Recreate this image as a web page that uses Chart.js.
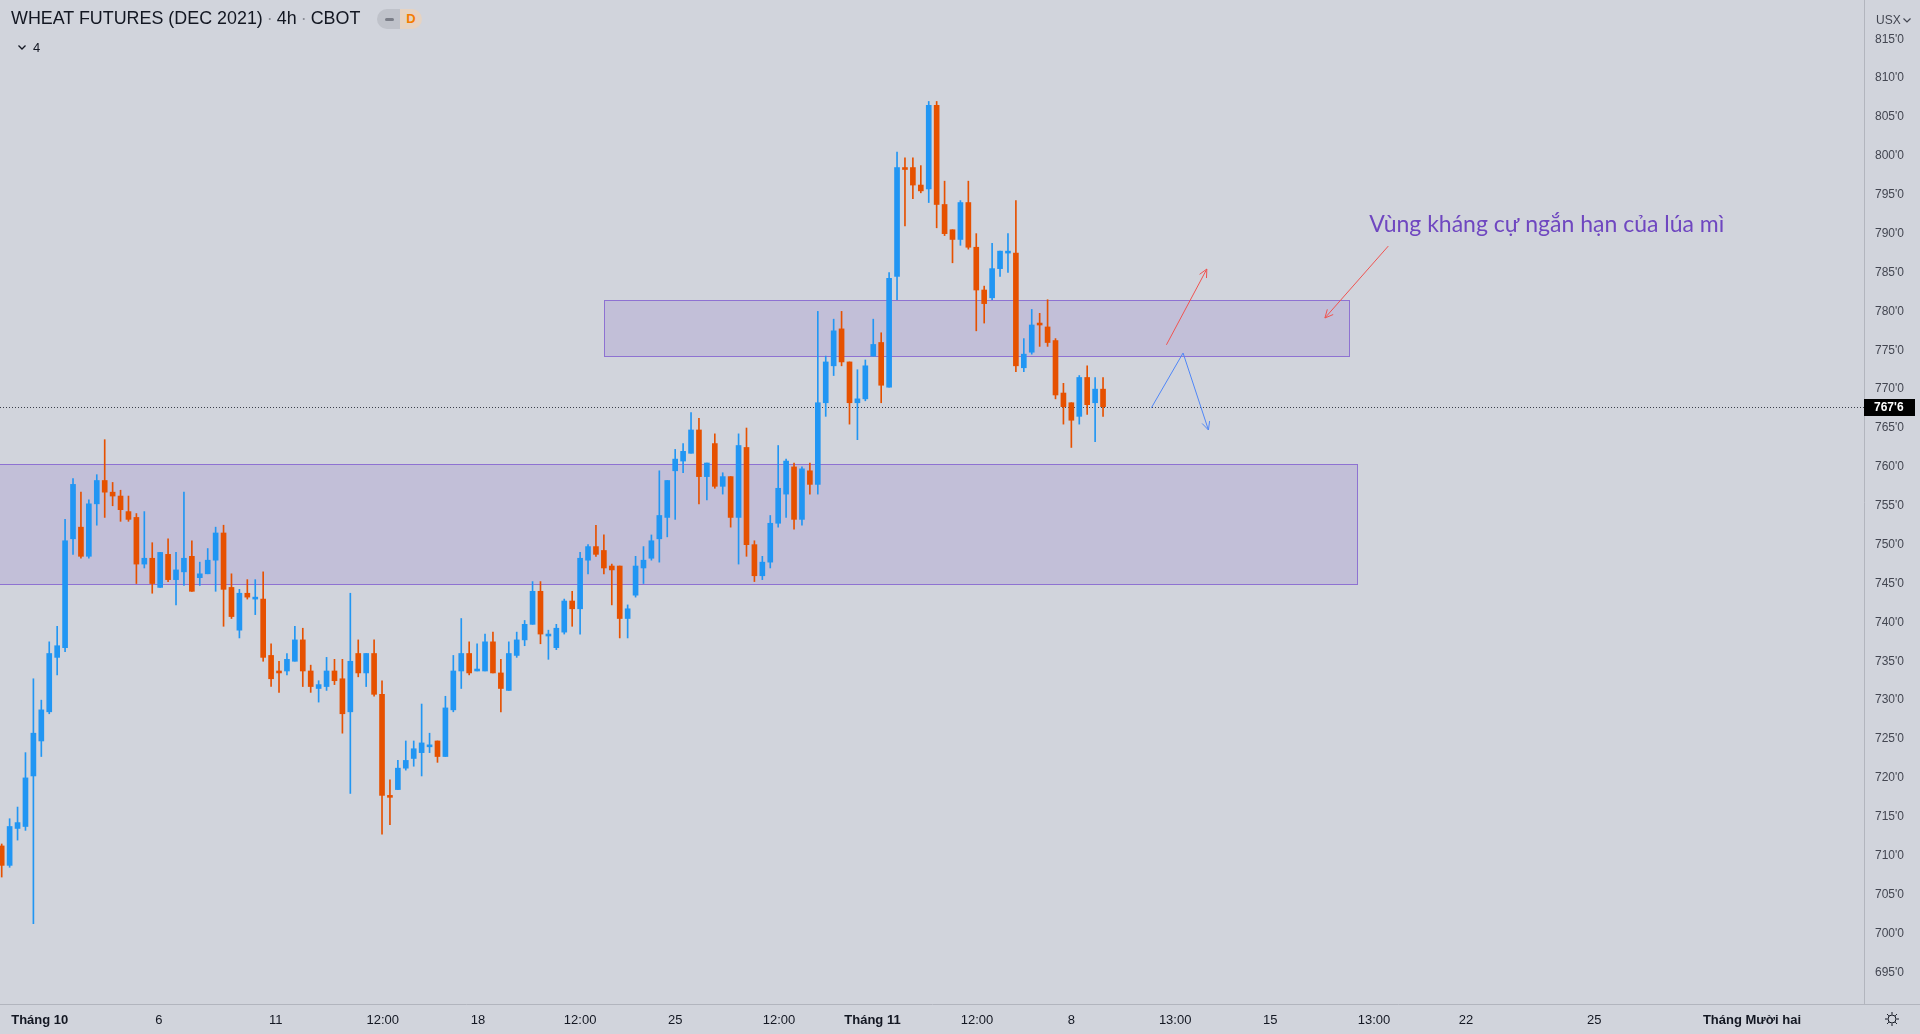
<!DOCTYPE html>
<html>
<head>
<meta charset="utf-8">
<script src="https://cdn.jsdelivr.net/npm/chart.js@4.4.0/dist/chart.umd.min.js"></script>
<style>
  html, body { margin: 0; padding: 0; background: #d1d4dc; overflow: hidden; }
  #wrap { position: relative; width: 1920px; height: 1034px; }
  #title { position: absolute; left: 11px; top: 10px; font: 17.9px 'Liberation Sans', Arial, sans-serif; color: #131722; white-space: nowrap; line-height: 17.9px; }
  #title .sep { color: #8a8d96; padding: 0 4px; }
  #pill { position: absolute; left: 377px; top: 9px; width: 45px; height: 20px; border-radius: 10px; overflow: hidden; display: flex; }
  #pill .l { width: 23px; background: #bfc2ca; position: relative; }
  #pill .l i { position: absolute; left: 8px; top: 8.5px; width: 9px; height: 3px; border-radius: 2px; background: #7b7e88; }
  #pill .r { width: 22px; background: #e6d3c2; color: #f57c00; font: bold 13px 'Liberation Sans', Arial, sans-serif; line-height: 20px; text-align: center; }
  #legend { position: absolute; left: 18px; top: 40px; font: 13px 'Liberation Sans', Arial, sans-serif; color: #131722; display: flex; align-items: center; gap: 7px; }
  #usx { position: absolute; left: 1876px; top: 13px; font: 12px 'Liberation Sans', Arial, sans-serif; color: #434651; display: flex; align-items: center; gap: 2px; }
</style>
</head>
<body>
<div id="wrap">
  <canvas id="chart"></canvas>
  <div id="title">WHEAT FUTURES (DEC 2021)<span class="sep">·</span>4h<span class="sep">·</span>CBOT</div>
  <div id="pill"><div class="l"><i></i></div><div class="r">D</div></div>
  <div id="legend"><svg width="8" height="5" viewBox="0 0 8 5"><polyline points="0.5,0.5 4,4 7.5,0.5" fill="none" stroke="#131722" stroke-width="1.3"/></svg><span>4</span></div>
  <div id="usx"><span>USX</span><svg width="8" height="5" viewBox="0 0 8 5"><polyline points="0.5,0.5 4,4 7.5,0.5" fill="none" stroke="#434651" stroke-width="1.2"/></svg></div>
</div>
<script>
// Wheat futures Dec 2021, 4h candles (CBOT)
const opens = [711.25, 708.75, 713.5, 713.75, 720.25, 724.75, 728.5, 735.5, 736.75, 750.75,
  752.25, 748.5, 755.25, 758.25, 756.75, 756.25, 754.25, 753.5, 747.5, 748.25,
  744.5, 748.75, 745.5, 746.5, 748.5, 745.75, 746.25, 748, 751.5, 744.5,
  739, 743.75, 743, 743, 735.75, 733.75, 733.75, 735, 737.75, 733.75,
  731.5, 731.75, 733.75, 732.75, 728.5, 736, 733.5, 736, 730.75, 717.75,
  718.5, 721.25, 722.5, 723.25, 724, 724.75, 722.75, 728.75, 733.75, 736,
  733.75, 733.75, 737.5, 733.5, 731.25, 735.75, 737.75, 739.75, 744, 738.25,
  736.75, 738.75, 742.75, 741.75, 748, 749.75, 749.25, 747.25, 747.25, 740.5,
  743.5, 747, 748.25, 750.75, 753.5, 759.5, 760.75, 761.75, 764.75, 758.75,
  763, 757.5, 758.75, 753.5, 762.5, 750, 746, 747.75, 752.75, 756.5,
  760, 753.25, 759.5, 757.75, 768.25, 773, 777.75, 773.5, 768.25, 768.75,
  774.25, 776, 770.25, 784.5, 798.5, 798.5, 796.25, 795.75, 806.5, 793.75,
  790.5, 789.25, 794, 788.25, 782.75, 781.75, 785.5, 787.5, 787.5, 772.75,
  774.75, 778.5, 778, 776.25, 769.5, 768.25, 766.5, 771.5, 768.25, 770];
const highs = [711.5, 714.75, 716.25, 723.25, 732.75, 730, 737.5, 739.5, 753.25, 758.5,
  756.75, 755.75, 759, 763.5, 758, 757, 756.25, 754, 754.25, 750.25,
  749, 750.75, 749, 756.75, 750.5, 747.75, 749.5, 752.25, 752.5, 746.25,
  744.25, 745.5, 745.5, 746.5, 737.25, 735, 736, 739.5, 739.25, 734.5,
  732.5, 735.5, 735.25, 735.25, 743.75, 737.75, 736, 737.75, 732.5, 719.75,
  722.25, 724.75, 724.75, 729.5, 725.75, 724.75, 730.5, 735.75, 740.5, 737.5,
  737.25, 738.5, 738.75, 735.25, 737.5, 738.75, 740.25, 745.25, 745.25, 739,
  739.75, 743, 744, 749, 750, 752.5, 751.25, 747.5, 747.25, 742.25,
  748.5, 749.75, 751.25, 759.5, 758.25, 762.25, 763, 767, 766.25, 760.5,
  764.25, 759.25, 758.75, 764.25, 765, 750.5, 748.5, 753.75, 762.75, 761,
  760.5, 760, 760.5, 780, 774.25, 779, 780, 773.5, 772.5, 773.75,
  779, 777.25, 785, 800.5, 799.75, 799.75, 798.75, 807, 807, 796.75,
  790.5, 794.25, 796.75, 790, 783.25, 788.75, 787.75, 790, 794.25, 776.5,
  780.25, 779.75, 781.5, 776.5, 770.75, 768.25, 771.75, 773, 771.5, 771.5];
const lows = [707.25, 708.5, 712, 713.25, 701.25, 722.75, 728.25, 733.25, 736.25, 748.75,
  748.25, 748.25, 752.5, 753.5, 755, 753, 753, 745, 747, 743.75,
  744.5, 745.25, 742.25, 744.75, 744, 744.75, 746.25, 744, 739.5, 740.5,
  738, 743, 741, 735, 731.75, 731, 733.25, 735, 731.75, 731,
  729.75, 731.25, 732, 725.75, 718, 733, 731.75, 730.5, 712.75, 714,
  718.5, 721, 721.5, 720.25, 723.25, 722, 722.75, 728.5, 731.5, 733.25,
  733.75, 733.75, 733.5, 728.5, 731.25, 735.5, 737, 739.75, 737.25, 735.25,
  736.5, 738.5, 739.5, 738.5, 746.25, 748.5, 746.25, 742.25, 738, 738,
  743.25, 745, 748, 747.75, 751, 753.25, 759.25, 761.75, 755.25, 755.75,
  757.25, 756.5, 752.25, 747.5, 748.5, 745.25, 745.5, 747, 752.25, 753.5,
  752, 752.5, 756.5, 756.5, 766.5, 771.75, 773, 765.5, 763.5, 768.5,
  774.25, 768.25, 770.25, 781.5, 791, 794.5, 795.25, 794, 790.75, 789.75,
  786.25, 788.5, 788, 777.5, 778.5, 781.5, 784.5, 785, 772.25, 772.25,
  774.5, 775.5, 775.5, 768.75, 765.5, 762.5, 765.5, 766.75, 763.25, 766.5];
const closes = [708.75, 713.75, 714.25, 720, 725.75, 728.75, 736, 737, 750.5, 757.75,
  748.5, 755.25, 758.25, 756.75, 756.25, 754.5, 753.25, 747.5, 748.25, 745,
  749, 745.5, 746.75, 748.25, 744, 746.25, 748, 751.5, 744.25, 740.75,
  743.75, 743.25, 743.25, 735.5, 732.75, 733.5, 735.25, 737.75, 733.75, 731.75,
  732, 733.75, 732.5, 728.25, 735, 733.5, 736, 730.75, 717.75, 717.5,
  721.25, 722.25, 723.75, 724.5, 724.25, 722.75, 729, 733.75, 736, 733.5,
  734, 737.5, 733.5, 731.5, 736, 737.75, 739.75, 744, 738.5, 738.5,
  739.25, 742.75, 741.75, 748.25, 749.75, 748.75, 747, 746.75, 740.5, 741.75,
  747.25, 748, 750.5, 753.75, 758.25, 761, 762, 764.75, 758.75, 760.5,
  757.5, 758.75, 753.5, 762.75, 750, 746, 747.75, 752.75, 757.25, 760.75,
  753.25, 759.75, 757.75, 768.25, 773.5, 777.5, 773.5, 768.25, 768.75, 773,
  775.75, 770.5, 784.25, 798.5, 798.25, 796.25, 795.5, 806.5, 793.75, 790,
  789.25, 794, 788.25, 782.75, 781, 785.5, 787.75, 787.75, 773, 774.5,
  778.25, 778.25, 776, 769.25, 767.75, 766, 771.5, 768, 770, 767.75];

// time axis: bar-index positions of the labels
const timeTickPos = [4.8, 19.85, 34.6, 48.1, 60.1, 73, 85, 98.1, 109.9, 123.1, 135, 148.1, 160.1, 173.2, 184.8, 201, 220.9];
const timeTickText = ['Tháng 10', '6', '11', '12:00', '18', '12:00', '25', '12:00', 'Tháng 11', '12:00', '8', '13:00', '15', '13:00', '22', '25', 'Tháng Mười hai'];
const timeTickBold = [true, false, false, false, false, false, false, false, true, false, false, false, false, false, false, false, true];
const priceTicks = [695, 700, 705, 710, 715, 720, 725, 730, 735, 740, 745, 750, 755, 760, 765, 770, 775, 780, 785, 790, 795, 800, 805, 810, 815];

// drawings (bar index / price)
const zoneStart = [-5, 76];
const zoneEnd = [171.05, 170.1];
const zoneTop = [760.4, 781.5];
const zoneBottom = [745, 774.3];
const lastPrice = 767.75;
const lastPriceText = "767'6";
const redArrow1X = [175.0, 167.0], redArrow1P = [788.4, 779.15];
const redArrow2X = [147.0, 152.1], redArrow2P = [775.7, 785.45];
const blueArrowX = [145.1, 149.1, 152.3], blueArrowP = [767.6, 774.65, 764.75];
const noteText = 'Vùng kháng cự ngắn hạn của lúa mì';
const noteX = 172.6, noteP = 790.25;

const UP = '#2196f3', DOWN = '#e65100';
const idx = opens.map((_, i) => i);
const colors = idx.map(i => closes[i] >= opens[i] ? UP : DOWN);

Chart.defaults.font.family = "'Liberation Sans', Arial, sans-serif";

function drawArrow(ctx, pts, color) {
  ctx.strokeStyle = color;
  ctx.lineWidth = 1;
  ctx.beginPath();
  pts.forEach((p, i) => i ? ctx.lineTo(p[0], p[1]) : ctx.moveTo(p[0], p[1]));
  ctx.stroke();
  const a = pts[pts.length - 2], b = pts[pts.length - 1];
  const ang = Math.atan2(b[1] - a[1], b[0] - a[0]);
  ctx.beginPath();
  ctx.moveTo(b[0] - 9 * Math.cos(ang - 0.45), b[1] - 9 * Math.sin(ang - 0.45));
  ctx.lineTo(b[0], b[1]);
  ctx.lineTo(b[0] - 9 * Math.cos(ang + 0.45), b[1] - 9 * Math.sin(ang + 0.45));
  ctx.stroke();
}

const drawings = {
  id: 'drawings',
  beforeDatasetsDraw(chart) {
    const { ctx, chartArea: a, scales: { x, y } } = chart;
    ctx.save();
    ctx.beginPath();
    ctx.rect(a.left, a.top, a.right - a.left, a.bottom - a.top);
    ctx.clip();
    zoneTop.forEach((_, k) => {
      const x0 = Math.round(x.getPixelForValue(zoneStart[k])) + 0.5;
      const x1 = Math.round(x.getPixelForValue(zoneEnd[k])) + 0.5;
      const y0 = Math.round(y.getPixelForValue(zoneTop[k])) + 0.5;
      const y1 = Math.round(y.getPixelForValue(zoneBottom[k])) + 0.5;
      ctx.fillStyle = 'rgba(126,87,194,0.17)';
      ctx.fillRect(x0, y0, x1 - x0, y1 - y0);
      ctx.strokeStyle = '#8e72d2';
      ctx.lineWidth = 1;
      ctx.strokeRect(x0, y0, x1 - x0, y1 - y0);
    });
    const py = Math.round(y.getPixelForValue(lastPrice)) + 0.5;
    ctx.strokeStyle = '#3b3f4a';
    ctx.setLineDash([1, 2]);
    ctx.beginPath();
    ctx.moveTo(a.left, py);
    ctx.lineTo(a.right, py);
    ctx.stroke();
    ctx.restore();
  },
  afterDatasetsDraw(chart) {
    const { ctx, scales: { x, y } } = chart;
    const pts = (xs, ps) => xs.map((v, i) => [x.getPixelForValue(v), y.getPixelForValue(ps[i])]);
    ctx.save();
    drawArrow(ctx, pts(redArrow1X, redArrow1P), '#ef5350');
    drawArrow(ctx, pts(redArrow2X, redArrow2P), '#ef5350');
    drawArrow(ctx, pts(blueArrowX, blueArrowP), '#4f86f7');
    ctx.fillStyle = '#6f47c0';
    ctx.font = '23px Lato, sans-serif';
    ctx.textBaseline = 'alphabetic';
    ctx.fillText(noteText, x.getPixelForValue(noteX), y.getPixelForValue(noteP));
    ctx.restore();
  },
  afterDraw(chart) {
    const { ctx, chartArea: a, scales: { y } } = chart;
    const W = chart.width;
    ctx.save();
    // price tag on the scale
    const py = y.getPixelForValue(lastPrice);
    ctx.fillStyle = '#000000';
    ctx.fillRect(a.right, Math.round(py) - 8, 51, 17);
    ctx.fillStyle = '#ffffff';
    ctx.font = 'bold 12px "Liberation Sans", Arial, sans-serif';
    ctx.textBaseline = 'middle';
    ctx.fillText(lastPriceText, a.right + 10, Math.round(py) + 1);
    // bottom separator across the price scale
    ctx.strokeStyle = '#b2b5be';
    ctx.lineWidth = 1;
    ctx.beginPath();
    ctx.moveTo(a.right, Math.round(a.bottom) + 0.5);
    ctx.lineTo(W, Math.round(a.bottom) + 0.5);
    ctx.stroke();
    // settings gear
    const gx = 1892, gy = 1019;
    ctx.strokeStyle = '#131722';
    ctx.beginPath();
    ctx.arc(gx, gy, 4, 0, Math.PI * 2);
    ctx.stroke();
    for (let k = 0; k < 8; k++) {
      const t = k * Math.PI / 4;
      ctx.beginPath();
      ctx.moveTo(gx + 4.5 * Math.cos(t), gy + 4.5 * Math.sin(t));
      ctx.lineTo(gx + 7 * Math.cos(t), gy + 7 * Math.sin(t));
      ctx.stroke();
    }
    ctx.restore();
  }
};

new Chart(document.getElementById('chart'), {
  type: 'bar',
  data: {
    datasets: [{
      label: 'body',
      data: idx.map(i => ({ x: i, y: [opens[i], closes[i]] })),
      backgroundColor: colors,
      barThickness: 5,
      minBarLength: 1,
      grouped: false,
      order: 0
    }, {
      label: 'wick',
      data: idx.map(i => ({ x: i, y: [lows[i], highs[i]] })),
      backgroundColor: colors,
      barThickness: 1,
      grouped: false,
      order: 1
    }]
  },
  options: {
    responsive: true,
    maintainAspectRatio: false,
    devicePixelRatio: 1,
    animation: false,
    events: [],
    layout: { padding: 0 },
    plugins: { legend: { display: false }, tooltip: { enabled: false } },
    scales: {
      x: {
        type: 'linear',
        min: -0.2146,
        max: 235.04,
        offset: false,
        grid: { display: false, drawTicks: false },
        border: { display: true, color: '#b2b5be' },
        afterBuildTicks: s => { s.ticks = timeTickPos.map(v => ({ value: v })); },
        afterFit: s => { s.height = 30; s.paddingLeft = 0; s.paddingRight = 0; },
        ticks: {
          autoSkip: false,
          maxRotation: 0,
          padding: 9,
          color: '#131722',
          callback: (v, i) => timeTickText[i],
          font: c => ({ size: 13, weight: timeTickBold[c.index] ? 'bold' : 'normal' })
        }
      },
      y: {
        position: 'right',
        min: 690.92,
        max: 820.05,
        grid: { display: false, drawTicks: false },
        border: { display: true, color: '#b2b5be' },
        afterBuildTicks: s => { s.ticks = priceTicks.map(v => ({ value: v })); },
        afterFit: s => { s.width = 56; s.paddingTop = 0; s.paddingBottom = 0; },
        ticks: {
          padding: 11,
          color: '#434651',
          font: { size: 12 },
          callback: v => v + "'0"
        }
      }
    }
  },
  plugins: [drawings]
});
</script>
</body>
</html>
